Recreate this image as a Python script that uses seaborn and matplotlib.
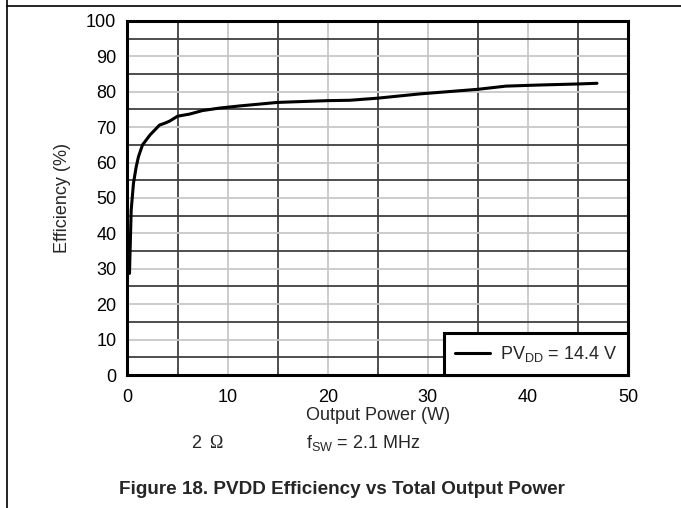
import numpy as np
import pandas as pd
import matplotlib
matplotlib.use("Agg")
import matplotlib.pyplot as plt
from matplotlib.lines import Line2D
from matplotlib.ticker import MultipleLocator
import seaborn as sns

# -------------------------------
# Data
# -------------------------------
power_w = [0.2, 0.37, 0.6, 0.87, 1.1, 1.5, 2.25, 3.2, 3.7, 4.2, 5.0, 6.2, 7.5,
           9.2, 11.2, 15, 20, 22.2, 25, 29.2, 35, 37.8, 41, 44.9, 46.9]
efficiency = [28.7, 46.6, 54.2, 58.8, 61.7, 65, 67.8, 70.6, 71.1, 71.7, 73.1,
              73.7, 74.7, 75.4, 76, 77, 77.5, 77.6, 78.2, 79.4, 80.7, 81.6,
              81.9, 82.2, 82.4]
series_label = r"PV$_{\mathregular{DD}}$ = 14.4 V"

df = pd.DataFrame({"power": power_w, "eff": efficiency})

# -------------------------------
# Style
# -------------------------------
sns.set_style("white")
plt.rcParams["font.family"] = ["Liberation Sans", "DejaVu Sans"]
plt.rcParams["mathtext.default"] = "regular"

fig = plt.figure(figsize=(6.81, 5.08), dpi=100)
ax = fig.add_axes([0.1872, 0.2618, 0.735, 0.6969])

sns.lineplot(data=df, x="power", y="eff", color="black", lw=2.2,
             sort=False, label=series_label, ax=ax)

ax.set_xlim(0, 50)
ax.set_ylim(0, 100)
ax.xaxis.set_major_locator(MultipleLocator(10))
ax.xaxis.set_minor_locator(MultipleLocator(5))
ax.yaxis.set_major_locator(MultipleLocator(10))
ax.yaxis.set_minor_locator(MultipleLocator(5))
ax.grid(which="major", color="#c8c8c8", lw=1.3)
ax.grid(which="minor", color="#404040", lw=1.3)
ax.set_axisbelow(True)
ax.tick_params(which="both", length=0, labelsize=13, colors="black")
ax.tick_params(axis="x", pad=10)
ax.tick_params(axis="y", pad=8)
for s in ax.spines.values():
    s.set_color("black")
    s.set_linewidth(2.2)

ax.set_xlabel("Output Power (W)", fontsize=13, labelpad=1)
ax.set_ylabel("Efficiency (%)", fontsize=13, labelpad=11)

leg = ax.legend(loc="lower right", bbox_to_anchor=(1, 0), borderaxespad=0,
                fancybox=False, fontsize=13, handlelength=1.95,
                handletextpad=0.55, borderpad=0.6, framealpha=1)
leg.get_frame().set_edgecolor("black")
leg.get_frame().set_linewidth(2.2)

# conditions + caption
fig.text(196 / 681, 1 - 443 / 508, "2", fontsize=13, ha="center", va="center")
fig.text(216 / 681, 1 - 443 / 508, "\u03a9", fontsize=13, ha="center",
         va="center", family=["Liberation Serif", "DejaVu Serif"])
fig.text(363 / 681, 1 - 443 / 508, r"f$_{\mathregular{SW}}$ = 2.1 MHz",
         fontsize=13, ha="center", va="center")
fig.text(342 / 681, 1 - 489 / 508,
         "Figure 18. PVDD Efficiency vs Total Output Power",
         fontsize=13.6, fontweight="bold", ha="center", va="center")

# datasheet frame lines
fig.add_artist(Line2D([6.5 / 681, 1], [1 - 6 / 508, 1 - 6 / 508],
                      color="black", lw=1.2, transform=fig.transFigure))
fig.add_artist(Line2D([6.5 / 681, 6.5 / 681], [0, 1],
                      color="black", lw=1.2, transform=fig.transFigure))

fig.savefig("out.png", dpi=100)
